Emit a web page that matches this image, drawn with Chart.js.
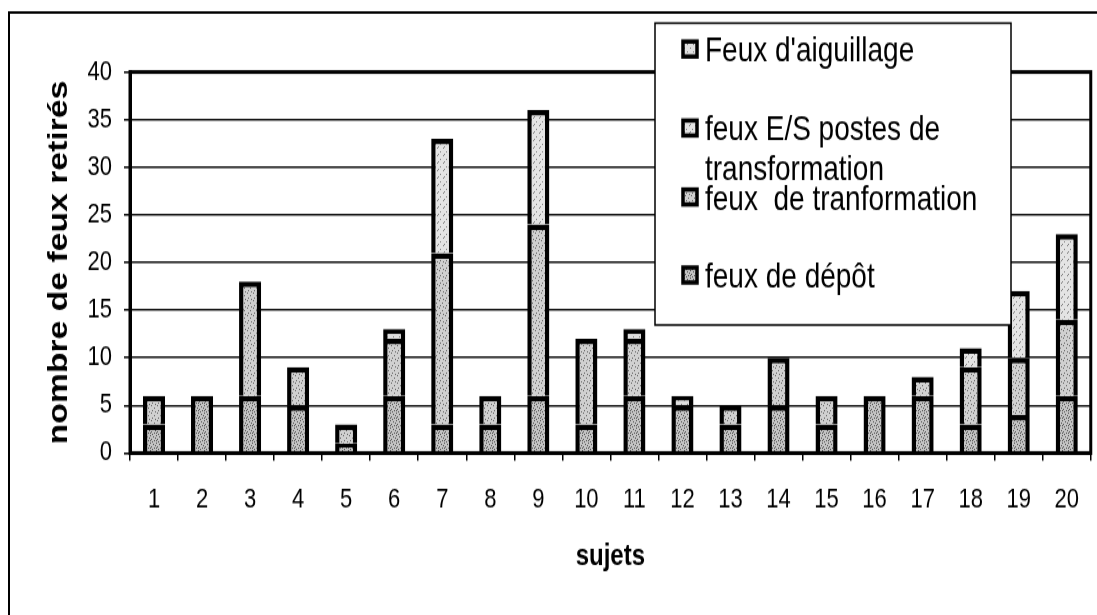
<!DOCTYPE html>
<html>
<head>
<meta charset="utf-8">
<script src="https://cdn.jsdelivr.net/npm/chart.js@4.4.1/dist/chart.umd.min.js"></script>
<style>
  html, body { margin: 0; padding: 0; background: #fff; overflow: hidden; }
  /* the scanned original is stretched vertically: the chart is drawn
     at 1097x492 and shown at 1097x615 */
  #feuxChart { width: 1097px; height: 615px; display: block; }
</style>
</head>
<body>
<canvas id="feuxChart" width="1097" height="492" style="width:1097px;height:615px"></canvas>
<script>
const sujets = ['1','2','3','4','5','6','7','8','9','10','11','12','13','14','15','16','17','18','19','20'];
const feuxDepot = [3, 6, 6, 5, 1, 6, 3, 3, 6, 3, 6, 5, 3, 5, 3, 6, 6, 3, 4, 6];
const feuxTransformation = [3, null, 12, 4, 2, 6, 18, 3, 18, 9, 6, null, 2, 5, 3, null, 2, 6, 6, 8];
const feuxPostes = [null, null, null, null, null, null, 12, null, 12, null, null, null, null, null, null, null, null, 2, 7, 9];
const feuxAiguillage = [null, null, null, null, null, 1, null, null, null, null, 1, 1, null, null, null, null, null, null, null, null];
const yTicks = [0, 5, 10, 15, 20, 25, 30, 35, 40];

const SANS = "'Liberation Sans', Arial, sans-serif";

// speckled fills like the scanned print
function speckle(base, dot, cells) {
    const c = document.createElement('canvas');
    c.width = 6; c.height = 6;
    const g = c.getContext('2d');
    g.fillStyle = base;
    g.fillRect(0, 0, 6, 6);
    g.fillStyle = dot;
    cells.forEach(([x, y]) => g.fillRect(x, y, 1, 1));
    return g.createPattern(c, 'repeat');
}

const fillDepot = speckle('#c4c4c4', '#555555', [[0,0],[3,1],[1,3],[4,4],[2,5],[5,2],[0,4]]);
const fillTransfo = speckle('#d0d0d0', '#666666', [[1,0],[4,2],[2,4],[5,5]]);
const fillPostes = speckle('#e4e4e4', '#808080', [[2,1],[5,4],[0,3]]);
const fillAiguillage = speckle('#e0e0e0', '#808080', [[0,2],[3,5]]);

const frameAndLegend = {
    id: 'frameAndLegend',
    beforeDraw(chart) {
        const ctx = chart.ctx;
        ctx.save();
        ctx.fillStyle = '#fff';
        ctx.fillRect(0, 0, chart.width, chart.height);
        ctx.strokeStyle = '#000';
        ctx.lineWidth = 2;
        ctx.strokeRect(9, 10, chart.width + 40, chart.height + 40);
        ctx.restore();
    },
    afterDraw(chart) {
        const ctx = chart.ctx;
        const a = chart.chartArea;
        ctx.save();
        // plot frame
        ctx.strokeStyle = '#000';
        ctx.lineWidth = 3;
        ctx.strokeRect(a.left, a.top, a.right - a.left, a.bottom - a.top);

        // legend box, overlapping the plot
        const box = { x: 655, y: 18.5, w: 356, h: 241.5 };
        ctx.fillStyle = '#fff';
        ctx.fillRect(box.x, box.y, box.w, box.h);
        ctx.lineWidth = 1.5;
        ctx.strokeRect(box.x, box.y, box.w, box.h);

        const rows = [39.2, 102.4, 157.6, 220];
        const sets = chart.data.datasets.slice().reverse();
        ctx.font = '28px ' + SANS;
        ctx.textBaseline = 'alphabetic';
        sets.forEach((ds, i) => {
            const cy = rows[i];
            ctx.fillStyle = ds.backgroundColor;
            ctx.fillRect(683, cy - 6, 14, 12);
            ctx.lineWidth = 3.5;
            ctx.strokeStyle = '#000';
            ctx.strokeRect(683, cy - 6, 14, 12);
            // wrap the label
            const words = ds.label.split(' ');
            const lines = [];
            let line = '';
            words.forEach(w => {
                const test = line === '' ? w : line + ' ' + w;
                if (ctx.measureText(test).width > 290 && line !== '') {
                    lines.push(line);
                    line = w;
                } else {
                    line = test;
                }
            });
            lines.push(line);
            ctx.fillStyle = '#000';
            lines.forEach((l, j) => ctx.fillText(l, 705, cy + 10 + j * 32));
        });
        ctx.restore();
    }
};

const ctx = document.getElementById('feuxChart').getContext('2d');
const barStyle = { borderColor: '#000', borderWidth: 4.5, barPercentage: 0.46, categoryPercentage: 1 };

new Chart(ctx, {
    type: 'bar',
    data: {
        labels: sujets,
        datasets: [
            { label: 'feux de dépôt', data: feuxDepot, backgroundColor: fillDepot, ...barStyle },
            { label: 'feux  de tranformation', data: feuxTransformation, backgroundColor: fillTransfo, ...barStyle },
            { label: 'feux E/S postes de transformation', data: feuxPostes, backgroundColor: fillPostes, ...barStyle },
            { label: "Feux d'aiguillage", data: feuxAiguillage, backgroundColor: fillAiguillage, ...barStyle },
        ],
    },
    options: {
        responsive: false,
        devicePixelRatio: 1,
        animation: false,
        layout: { padding: { left: 10, top: 57.6, right: 1, bottom: 14.4 } },
        plugins: {
            legend: { display: false },
            tooltip: { enabled: false },
        },
        scales: {
            x: {
                stacked: true,
                afterFit: (s) => { s.height = 115.2; },
                grid: { drawOnChartArea: false, offset: true, tickLength: 6, color: '#000', lineWidth: 1.5 },
                border: { color: '#000', width: 3 },
                ticks: { color: '#000', padding: 18, font: { family: SANS, size: 22 } },
                title: {
                    display: true,
                    text: 'sujets',
                    color: '#000',
                    padding: { top: 0, bottom: 18 },
                    font: { family: SANS, size: 24, weight: 'bold' },
                },
            },
            y: {
                stacked: true,
                min: 0,
                max: 40,
                afterFit: (s) => { s.width = 120; },
                afterBuildTicks: (s) => { s.ticks = yTicks.map(v => ({ value: v })); },
                grid: { color: '#111', lineWidth: 1.6, tickLength: 6 },
                border: { color: '#000', width: 3 },
                ticks: { color: '#000', padding: 12, font: { family: SANS, size: 22 } },
                title: {
                    display: true,
                    text: 'nombre de feux retirés',
                    color: '#000',
                    padding: { top: 33, bottom: 0 },
                    font: { family: SANS, size: 27, weight: 'bold' },
                },
            },
        },
    },
    plugins: [frameAndLegend],
});
</script>
</body>
</html>
